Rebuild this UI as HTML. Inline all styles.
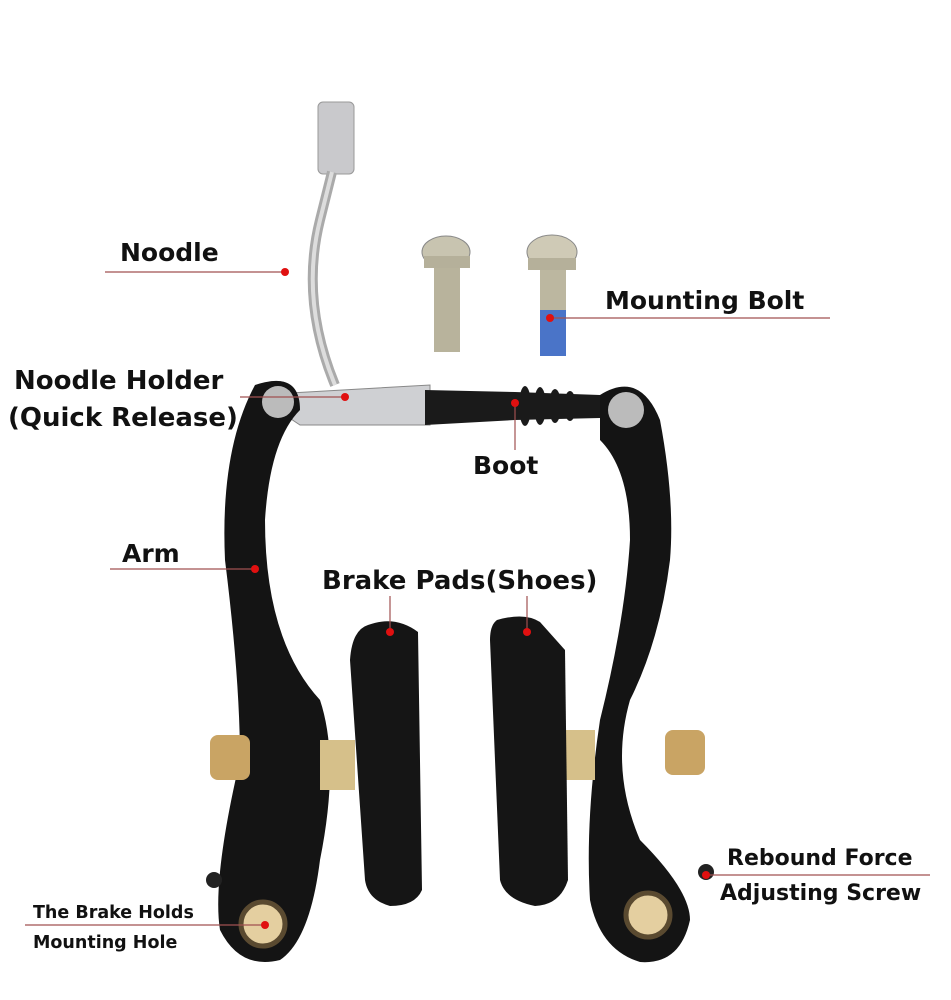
<!DOCTYPE html>
<html><head><meta charset="utf-8"><style>
html,body{margin:0;padding:0;background:#fff;width:951px;height:1000px;overflow:hidden}
svg{display:block}
text{font-family:"DejaVu Sans","Liberation Sans",sans-serif;font-weight:bold;fill:#111}
</style></head><body>
<svg width="951" height="1000" viewBox="0 0 951 1000" xmlns="http://www.w3.org/2000/svg">
<rect width="951" height="1000" fill="#fff"/>
<rect x="318" y="102" width="36" height="72" rx="5" fill="#c9c9cc" stroke="#999"/>
<path d="M332 172 L320 220 Q300 300 335 385" stroke="#aaa" stroke-width="10" fill="none"/>
<path d="M332 172 L320 220 Q300 300 335 385" stroke="#ddd" stroke-width="4" fill="none"/>
<g>
<ellipse cx="446" cy="252" rx="24" ry="16" fill="#c8c4b0" stroke="#888"/>
<rect x="424" y="256" width="46" height="12" fill="#b5b09a"/>
<rect x="434" y="268" width="26" height="84" fill="#b8b39c"/>
<ellipse cx="552" cy="252" rx="25" ry="17" fill="#cfcab6" stroke="#888"/>
<rect x="528" y="258" width="48" height="12" fill="#b5b09a"/>
<rect x="540" y="270" width="26" height="40" fill="#bcb7a0"/>
<rect x="540" y="310" width="26" height="46" fill="#4a74c8"/>
</g>
<path d="M255 395 L430 385 L430 425 L300 425 Z" fill="#cfd0d3" stroke="#888"/>
<path d="M425 390 L515 392 L600 395 L600 418 L515 420 L425 425 Z" fill="#1a1a1a"/>
<g fill="#1a1a1a"><ellipse cx="525" cy="406" rx="6" ry="20"/><ellipse cx="540" cy="406" rx="6" ry="19"/><ellipse cx="555" cy="406" rx="6" ry="17"/><ellipse cx="570" cy="406" rx="6" ry="15"/></g>
<path d="M255 385 Q300 370 300 410 Q270 440 265 520 Q265 640 320 700 Q340 760 320 860 Q310 940 280 960 Q240 970 220 930 Q212 880 240 760 Q240 680 225 560 Q220 450 255 385 Z" fill="#141414"/>
<circle cx="278" cy="402" r="16" fill="#bbb"/>
<circle cx="263" cy="924" r="22" fill="#e4cfa0" stroke="#5a4a30" stroke-width="5"/>
<path d="M600 395 Q640 370 660 420 Q675 500 670 560 Q660 640 630 700 Q610 770 640 840 Q690 890 690 920 Q680 965 640 962 Q600 950 590 900 Q585 820 600 720 Q625 620 630 540 Q630 470 600 440 Z" fill="#141414"/>
<circle cx="626" cy="410" r="18" fill="#bbb"/>
<circle cx="648" cy="915" r="22" fill="#e4cfa0" stroke="#5a4a30" stroke-width="5"/>
<rect x="210" y="735" width="40" height="45" rx="8" fill="#c9a464"/>
<rect x="665" y="730" width="40" height="45" rx="8" fill="#c9a464"/>
<rect x="320" y="740" width="35" height="50" fill="#d6c08a"/>
<rect x="565" y="730" width="30" height="50" fill="#d6c08a"/>
<path d="M368 625 Q395 615 418 632 L422 890 Q415 906 390 906 Q368 900 365 880 L350 660 Q352 630 368 625 Z" fill="#151515"/>
<path d="M497 620 Q525 612 540 622 L565 650 L568 880 Q560 905 535 906 Q505 900 500 880 L490 640 Q490 625 497 620 Z" fill="#151515"/>
<circle cx="214" cy="880" r="8" fill="#222"/>
<circle cx="706" cy="872" r="8" fill="#222"/>
<g stroke="#a05050" stroke-width="1.2" fill="none">
<line x1="105" y1="272" x2="285" y2="272"/>
<line x1="550" y1="318" x2="830" y2="318"/>
<line x1="240" y1="397" x2="345" y2="397"/>
<line x1="515" y1="403" x2="515" y2="450"/>
<line x1="110" y1="569" x2="255" y2="569"/>
<line x1="390" y1="596" x2="390" y2="632"/>
<line x1="527" y1="596" x2="527" y2="632"/>
<line x1="705" y1="875" x2="930" y2="875"/>
<line x1="25" y1="925" x2="265" y2="925"/>
</g>
<g fill="#e01010">
<circle cx="285" cy="272" r="4"/><circle cx="550" cy="318" r="4"/><circle cx="345" cy="397" r="4"/>
<circle cx="515" cy="403" r="4"/><circle cx="255" cy="569" r="4"/><circle cx="390" cy="632" r="4"/>
<circle cx="527" cy="632" r="4"/><circle cx="706" cy="875" r="4"/><circle cx="265" cy="925" r="4"/>
</g>
<text x="120" y="261" font-size="25">Noodle</text>
<text x="605" y="309" font-size="25">Mounting Bolt</text>
<text x="14" y="389" font-size="26">Noodle Holder</text>
<text x="8" y="426" font-size="26">(Quick Release)</text>
<text x="473" y="474" font-size="25">Boot</text>
<text x="122" y="562" font-size="25">Arm</text>
<text x="322" y="589" font-size="26">Brake Pads(Shoes)</text>
<text x="727" y="865" font-size="22">Rebound Force</text>
<text x="720" y="900" font-size="22">Adjusting Screw</text>
<text x="33" y="918" font-size="17.5">The Brake Holds</text>
<text x="33" y="948" font-size="17.5">Mounting Hole</text>
</svg>
</body></html>
